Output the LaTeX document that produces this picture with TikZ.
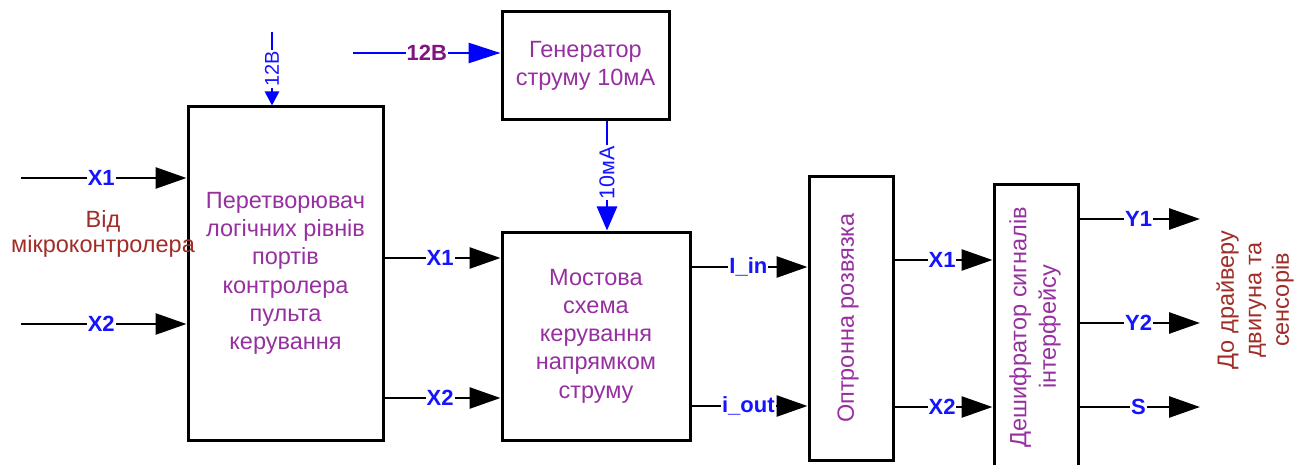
\documentclass[tikz,border=0pt]{standalone}
\usepackage{fontspec}
\setmainfont{Liberation Sans}
\usetikzlibrary{arrows.meta}

\definecolor{blocktext}{RGB}{150,48,160}
\definecolor{siglabel}{RGB}{20,20,255}
\definecolor{supply}{RGB}{0,0,255}
\definecolor{supplylabel}{RGB}{128,20,128}
\definecolor{notetext}{RGB}{160,45,40}

\tikzset{
  block/.style={draw=black, line width=3pt, rectangle, inner sep=0pt,
    text=blocktext, align=center,
    font=\fontsize{23.5}{28.3}\selectfont},
  sig/.style={draw=black, line width=2.7pt,
    -{Triangle[length=31pt,width=21pt]}},
  pwr/.style={draw=supply, line width=2.7pt},
  lbl/.style={fill=white, inner sep=1pt, text=siglabel,
    font=\fontsize{22}{24}\selectfont\bfseries},
  plbl/.style={fill=white, inner sep=1pt, text=siglabel,
    font=\fontsize{20}{24}\selectfont},
  note/.style={text=notetext, align=center,
    font=\fontsize{23.5}{25}\selectfont}
}

\begin{document}
\begin{tikzpicture}[x=1pt, y=-1pt]
\useasboundingbox (0,0) rectangle (1311,465);
\clip (0,0) rectangle (1311,465);

% blocks
\node[block, minimum width=195pt, minimum height=333pt] (conv) at (285.5,273.5)
  {Перетворювач\\логічних рівнів\\портів\\контролера\\пульта\\керування};
\node[block, minimum width=167pt, minimum height=108pt] (gen) at (585.5,66)
  {Генератор\\струму 10мА};
\node[block, minimum width=188pt, minimum height=208pt] (bridge) at (596,336)
  {Мостова\\схема\\керування\\напрямком\\струму};
\node[block, minimum width=84pt, minimum height=283pt] (opto) at (851,318.5) {};
\node[text=blocktext, font=\fontsize{23.5}{28}\selectfont, rotate=90] (optotxt)
  at (848,318) {Оптронна розвязка};
\node[block, minimum width=84pt, minimum height=300pt] (dec) at (1036,335) {};
\node[text=blocktext, align=center, font=\fontsize{23.5}{29.5}\selectfont, rotate=90]
  (dectxt) at (1035,327) {Дешифратор сигналів\\інтерфейсу};

% free ends
\coordinate (inA) at (21,178);
\coordinate (inB) at (21,324);
\coordinate (vcc1) at (272,32);
\coordinate (vcc2) at (353,53);
\coordinate (outY1) at (1200,219);
\coordinate (outY2) at (1200,323);
\coordinate (outS) at (1200,407);

% supply lines
\draw[pwr, -{Triangle[length=14pt,width=14pt]}] (vcc1) -- (vcc1 |- conv.north)
  node[plbl, pos=0.5, rotate=90] {12В};
\draw[pwr, -{Triangle[length=32pt,width=20pt]}] (vcc2) -- (vcc2 -| gen.west)
  node[lbl, text=supplylabel, pos=0.5] {12В};
\draw[pwr, -{Triangle[length=24pt,width=20pt]}] (607,0 |- gen.south) -- (607,0 |- bridge.north)
  node[plbl, font=\fontsize{21.5}{24}\selectfont, pos=0.47, rotate=90] {10мА};

% signal lines
\draw[sig] (inA) -- (inA -| conv.west) node[lbl, pos=0.485] {X1};
\draw[sig] (inB) -- (inB -| conv.west) node[lbl, pos=0.485] {X2};
\draw[sig] (conv.east |- 0,258) -- (bridge.west |- 0,258) node[lbl, pos=0.48] {X1};
\draw[sig] (conv.east |- 0,398) -- (bridge.west |- 0,398) node[lbl, pos=0.48] {X2};
\draw[sig] (bridge.east |- 0,267) -- (opto.west |- 0,267) node[lbl, pos=0.49] {I\_in};
\draw[sig] (bridge.east |- 0,406) -- (opto.west |- 0,406) node[lbl, pos=0.49] {i\_out};
\draw[sig] (opto.east |- 0,260) -- (dec.west |- 0,260) node[lbl, pos=0.485] {X1};
\draw[sig] (opto.east |- 0,407) -- (dec.west |- 0,407) node[lbl, pos=0.485] {X2};
\draw[sig] (dec.east |- outY1) -- (outY1) node[lbl, pos=0.49] {Y1};
\draw[sig] (dec.east |- outY2) -- (outY2) node[lbl, pos=0.49] {Y2};
\draw[sig] (dec.east |- outS) -- (outS) node[lbl, pos=0.49] {S};

% side notes
\node[note] (src) at (103,234) {Від\\мікроконтролера};
\node[note, font=\fontsize{23.5}{27.5}\selectfont, rotate=90] (dst) at (1255,300)
  {До драйверу\\двигуна та\\сенсорів};
\end{tikzpicture}
\end{document}
